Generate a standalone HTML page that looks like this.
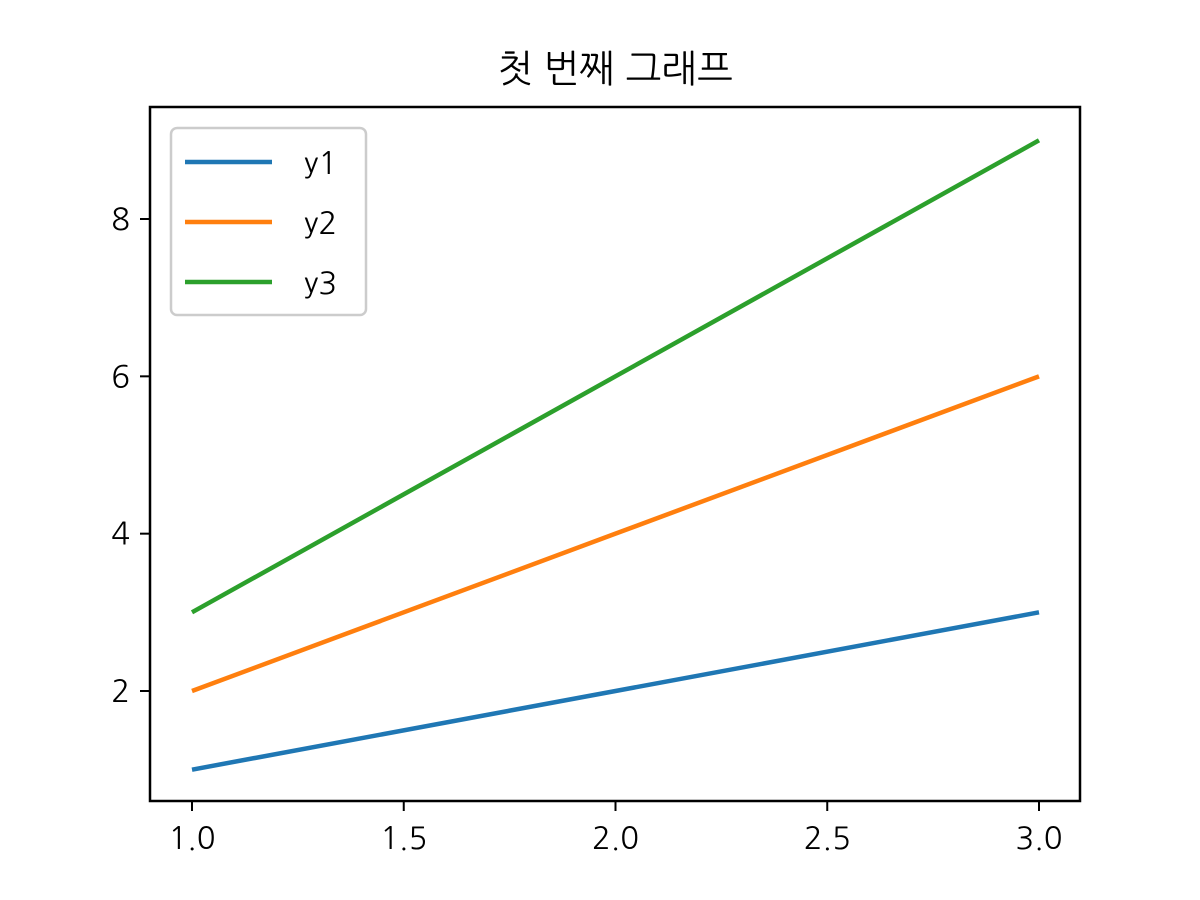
<!DOCTYPE html>
<html><head><meta charset="utf-8">
<style>
html,body{margin:0;padding:0;background:#fff;}
svg{display:block;}
text{font-family:"NanumGothic","Nanum Gothic","WenQuanYi Zen Hei","Noto Sans CJK KR",sans-serif;fill:#000;}
</style></head>
<body>
<svg id="chart" width="1200" height="900" xmlns="http://www.w3.org/2000/svg">
<rect x="0" y="0" width="1200" height="900" fill="#fff"/>
<text x="615" y="82" font-size="38" text-anchor="middle">첫 번째 그래프</text>
<g id="plot"></g>
</svg>
<script>
const xValues = [1, 2, 3];
const y1Values = [1, 2, 3];
const y2Values = [2, 4, 6];
const y3Values = [3, 6, 9];
const seriesNames = ["y1", "y2", "y3"];
const xTicks = [1.0, 1.5, 2.0, 2.5, 3.0];
const xTickLabels = ["1.0", "1.5", "2.0", "2.5", "3.0"];
const yTicks = [2, 4, 6, 8];
const yTickLabels = ["2", "4", "6", "8"];

const L=150,R=1080,T=107,B=801;
const xs = v => 192 + (v-1)*(1039-192)/2;
const ys = v => 691 - (v-2)*(691-219)/6;
const ns="http://www.w3.org/2000/svg";
const g=document.getElementById('plot');
function mk(tag,attrs){const e=document.createElementNS(ns,tag);for(const k in attrs)e.setAttribute(k,attrs[k]);g.appendChild(e);return e;}
const colors=["#1f77b4","#ff7f0e","#2ca02c"];
[y1Values,y2Values,y3Values].forEach((vals,i)=>{
  const p=mk('polyline',{points:vals.map((v,j)=>xs(xValues[j])+','+ys(v)).join(' '),fill:'none',stroke:colors[i],'stroke-width':4.5});
  
  
});
const frame=mk('rect',{x:L,y:T,width:R-L,height:B-T,fill:'none',stroke:'#000','stroke-width':2.5});


xTicks.forEach((t,i)=>{
  const l=mk('line',{x1:xs(t),x2:xs(t),y1:B,y2:B+10,stroke:'#000','stroke-width':2});
  
  
  const tx=mk('text',{x:xs(t),y:B+48,'font-size':31,'text-anchor':'middle'});
  tx.textContent=xTickLabels[i];
  
  
});
yTicks.forEach((t,i)=>{
  const l=mk('line',{x1:L-10,x2:L,y1:ys(t),y2:ys(t),stroke:'#000','stroke-width':2});
  
  
  const tx=mk('text',{x:L-20,y:ys(t)+11,'font-size':31,'text-anchor':'end'});
  tx.textContent=yTickLabels[i];
  
  
});
const lg=mk('rect',{x:171,y:128,width:195,height:187,rx:6,fill:'#fff','fill-opacity':0.8,stroke:'#ccc','stroke-width':2.5});


seriesNames.forEach((n,i)=>{
  const y=162+i*60;
  const l=mk('line',{x1:185,x2:272,y1:y,y2:y,stroke:colors[i],'stroke-width':4.5});
  
  
  const tx=mk('text',{x:304,y:y+12,'font-size':31});
  tx.textContent=n;
  
  
});
</script>
</body></html>
